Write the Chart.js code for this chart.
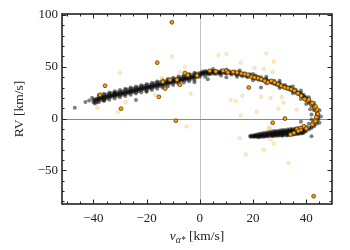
<!DOCTYPE html>
<html>
<head>
  <title>RV vs proper motion</title>
  <script src="https://cdn.jsdelivr.net/npm/chart.js"></script>
  <style>
    html, body { margin: 0; padding: 0; background: #fff; }
  </style>
</head>
<body>
  <canvas id="rvChart" width="350" height="250"></canvas>

  <script>
    // axis ranges and tick labels
    const xRange = [-51.8, 49.7];
    const yRange = [-82.5, 101];
    const xTicks = [-40, -20, 0, 20, 40];
    const yTicks = [-50, 0, 50, 100];

    // grey points: the dense stream (v_alpha*, RV)
    const greyPts = [
      [-47,10.5],[-43,16],[-41.6,17.5],[-40.5,20],[-24,18],[-20,26],[-2,35],[3,38],[10,40],[23,30],[32,0],[38,-3],[42,-17],
      [-40,16],[-40,18],[-39.5,14.5],[-39,17],[-39,19],[-39,15.5],[-38,19],[-38,17.5],[-38,20.5],[-37,20],[-37,18],[-37,21.5],
      [-36,20.5],[-36,19],[-36,22.5],[-36,17.8],[-35,21],[-35,23],[-35,19.5],[-34,22],[-34,20.5],[-34,24],
      [-33,22.5],[-33,21],[-33,24.5],[-32,23],[-32,21.5],[-32,25],[-32,24],[-31,23.5],[-31,25.5],[-31,22],
      [-30,24],[-30,26],[-30,22.5],[-29,24.5],[-29,26.5],[-29,23],[-28,25.5],[-28,27.5],[-28,23.5],
      [-27,26],[-27,24.5],[-27,28],[-26,26.5],[-26,28.5],[-26,25],[-25,27],[-25,29],[-25,25.5],
      [-24,27.5],[-24,29.5],[-24,26],[-23,28],[-23,30],[-23,26.5],[-22,29],[-22,31],[-22,27.5],
      [-21,29.5],[-21,31.5],[-21,28],[-20,30],[-20,32],[-20,28.5],[-19,30.5],[-19,32.5],[-19,29],
      [-18,31],[-18,33],[-18,29.5],[-17,32],[-17,34],[-17,30.5],[-16,32.5],[-16,34.5],[-16,31],
      [-15,33],[-15,35],[-15,31.5],[-14,33.5],[-14,35.5],[-14,32],[-13,34],[-13,36],[-13,32.5],
      [-12,35],[-12,37],[-12,33.5],[-11,35.5],[-11,37.5],[-11,34],[-10,36],[-10,38],[-10,34.5],
      [-9,36.5],[-9,38.5],[-9,35],[-8,37],[-8,39],[-8,35.5],[-7,38],[-7,40],[-7,36.5],
      [-6,38.5],[-6,40.5],[-6,37],[-5,39],[-5,41],[-5,37.5],[-4,39.5],[-4,41.5],[-4,38],
      [-3,40],[-3,42],[-3,38.5],[-2,41],[-2,43],[-2,39.5],[-1,41.5],[-1,43.5],[-1,40],[0,42],[0,44],[0,40.5],
      [-38,22.7],[-38,15.7],[-36,23.9],[-36,16.9],[-34,25.1],[-34,18.1],[-32,26.3],[-32,19.3],[-30,27.5],[-30,20.5],
      [-28,28.7],[-28,21.7],[-26,29.9],[-26,22.9],[-24,31.1],[-24,24.1],[-22,32.3],[-22,25.3],[-20,33.5],[-20,26.5],
      [-18,34.7],[-18,27.7],[-16,35.9],[-16,28.9],[-14,37.1],[-14,30.1],[-12,38.3],[-12,31.3],[-10,39.5],[-10,32.5],
      [-8,40.7],[-8,33.7],[-6,41.9],[-6,34.9],[-4,43.1],[-4,36.1],[-2,44.3],[-2,37.3],
      [-39.5,18.3],[-38.5,18.9],[-37.5,19.5],[-36.5,20.1],[-35.5,20.7],[-34.5,21.3],[-33.5,21.9],[-32.5,22.5],
      [-31.5,23.1],[-30.5,23.7],[-29.5,24.3],[-28.5,24.9],[-27.5,25.5],[-26.5,26.1],[-25.5,26.7],[-24.5,27.3],
      [-23.5,27.9],[-22.5,28.5],[-21.5,29.1],[-20.5,29.7],[-19.5,30.3],[-18.5,30.9],[-17.5,31.5],[-16.5,32.1],
      [-15.5,32.7],[-14.5,33.3],[-13.5,33.9],[-12.5,34.5],[-11.5,35.1],[-10.5,35.7],[-9.5,36.3],[-8.5,36.9],
      [-7.5,37.5],[-6.5,38.1],[-5.5,38.7],[-4.5,39.3],[-3.5,39.9],[-2.5,40.5],[-1.5,41.1],[-0.5,41.7],
      [1,44],[1,42.5],[1,45.5],[2,44.5],[2,43],[2,46],[3,44],[3,45.5],[3,42.5],[4,44.5],[4,46],[4,43],
      [5,45],[5,43.5],[5,46],[6,44.5],[6,46],[6,43],[7,45],[7,43.5],[8,45],[8,46.5],[8,43.5],
      [9,44.5],[9,46],[10,45],[10,43.5],[11,44.5],[11,46],[12,44],[12,42.5],[13,44],[13,45.5],
      [14,43.5],[14,42],[15,43],[15,44.5],[16,42.5],[16,41],[17,42],[17,43.5],[18,41.5],[18,40],
      [19,41],[19,42.5],[20,40.5],[20,39],[21,40],[21,38.5],[21,41.5],[22,39],[22,37.5],[22,40.5],
      [23,38.5],[23,37],[23,40],[24,38],[24,36.5],[25,37],[25,38.5],[25,35.5],[26,36.5],[26,35],
      [27,36],[27,34.5],[28,35],[28,36.5],[28,33.5],[29,34],[29,32.5],[30,33],[30,34.5],[30,31.5],
      [31,32],[31,30.5],[32,31],[32,32.5],[32,29.5],[33,30],[33,28.5],[34,29],[34,27.5],[34,30.5],
      [35,28],[35,26.5],[36,26.5],[36,25],[36,28],[37,25],[37,23.5],[38,23.5],[38,22],[38,25],
      [39,21.5],[39,20],[39,23],[40,19],[40,17.5],[40,20.5],[41,16.5],[41,15],[41,18],
      [42,14],[42,12.5],[42,15.5],[43,11],[43,9.5],[43,12.5],[43,8],[44,7],[44,5],[44,3],
      [44.5,1],[44.5,-1],[44.5,4],[44,-3],[44,-5],[43,-6],[43,-7.5],[42,-8],[42,-9],[41,-9],[41,-10.5],
      [0.5,43.5],[1.5,44],[2.5,45],[3.5,43.5],[4.5,45.5],[5.5,44],[6.5,45.5],[7.5,44],[8.5,45.5],[9.5,44],
      [10.5,45.5],[11.5,43.5],[12.5,45],[13.5,43],[14.5,44.5],[15.5,42],[16.5,43.5],[17.5,41],[18.5,42.5],
      [19.5,40],[20.5,41],[21.5,39],[22.5,38.5],[23.5,37.5],[24.5,37],[25.5,36],[26.5,35.5],[27.5,34.5],
      [28.5,34],[29.5,33],[30.5,32.5],[31.5,31.5],[32.5,30.5],[33.5,29.5],[34.5,28.5],[35.5,27],[36.5,26],
      [37.5,24],[38.5,22.5],[39.5,20.5],[40.5,18],[41.5,15.5],[42.5,13],[43.5,10],
      [5,48],[10,47.5],[15,46.5],[20,43],[25,40.5],[30,36.5],[35,31],[38,27],[41,20.5],[43,15],[45,8],[45.5,2],[45,-4],
      [2,40.5],[8,41.5],[14,40.5],[20,37],[25,34],[30,29.5],[35,24.5],[38,19],[40,14],[41.5,9],[42,4],[42,-1],[41,-5],
      [40,-8],[40,-10],[40,-12],[39,-8.5],[39,-10.5],[39,-12.5],[39,-14],[38,-9],[38,-11],[38,-13],[38,-14.5],
      [37,-9],[37,-11],[37,-13],[37,-15],[36,-9.5],[36,-11.5],[36,-13.5],[36,-15],
      [35,-10],[35,-12],[35,-14],[35,-15.5],[34,-10],[34,-12],[34,-14],[34,-15.5],
      [33,-10.5],[33,-12.5],[33,-14.5],[33,-16],[32,-11],[32,-13],[32,-15],
      [31,-11],[31,-13],[31,-15],[31,-16.5],[30,-11.5],[30,-13.5],[30,-15.5],
      [29,-12],[29,-14],[29,-16],[28,-12],[28,-14],[28,-16],[27,-12.5],[27,-14.5],[27,-16.5],
      [26,-13],[26,-15],[26,-17],[25,-13.5],[25,-15.5],[25,-17],[24,-14],[24,-16],[24,-17.5],
      [23,-14.5],[23,-16],[23,-17.5],[22,-15],[22,-16.5],[22,-18],[21,-15.5],[21,-17],
      [20,-16],[20,-17.5],[19,-16.5],[19,-17.5],
      [39.5,-10],[39.5,-12.5],[38.5,-10],[38.5,-12],[38.5,-14],[37.5,-10],[37.5,-12],[37.5,-14],
      [36.5,-10.5],[36.5,-12.5],[36.5,-14.5],[35.5,-11],[35.5,-13],[35.5,-15],[34.5,-11],[34.5,-13],[34.5,-15],
      [33.5,-11.5],[33.5,-13.5],[33.5,-15.5],[32.5,-12],[32.5,-14],[32.5,-16],[31.5,-12],[31.5,-14],[31.5,-16],
      [30.5,-12.5],[30.5,-14.5],[30.5,-16],[29.5,-13],[29.5,-15],[29.5,-16.5],[28.5,-13],[28.5,-15],[28.5,-16.5],
      [27.5,-13.5],[27.5,-15.5],[27.5,-17],[26.5,-14],[26.5,-16],[25.5,-14.5],[25.5,-16.5],[24.5,-15],[24.5,-17],
      [23.5,-15],[23.5,-17],[22.5,-15.5],[22.5,-17.5],[21.5,-16],[21.5,-17.5],[20.5,-16.5],[20.5,-17.5],[19.5,-17]
    ];

    // orange points (edged)
    const orangePts = [
      [-10.5,93],[-16,54],[-35.6,31.7],[-37.5,23],[-29.6,9.6],[-13.9,35.6],[-11.2,37.5],[-8.6,37.5],
      [-7.5,32.7],[-13,29],[-15.4,21],[-9,-2],[-4.5,42],[-5.6,44],[-1,41.5],[18.4,30],[27.4,-4],[32,0],[42.8,-75],
      [3.75,46.2],[8.75,46.2],[10,46.2],[10.6,44.6],[15.6,43.6],[16.9,43],[18.1,42.3],[19.4,40.4],
      [20.6,39.7],[21.9,39.1],[23.1,38.1],[24.4,36.5],[25.6,34.9],[26.9,36.5],[28.1,34.9],[29.4,33.3],
      [30.6,31.7],[31.9,30.1],[33.1,29.5],[34.4,28.5],[35.6,26.9],[36.9,24.4],[38.1,22.1],[39.4,18.9],
      [40.6,17.3],[41.9,14.1],[43.1,10.9],[43.8,7.7],[44.4,4.5],[43.8,1.3],[43.1,-1.9],[42.5,-4.5],
      [39.1,-7.4],[35.4,-13.8],[34.1,-15.4],[37.9,-9],[42.3,-5.8],[43.5,-2.6],[44.1,8.7],[43.5,11.8],
      [42.3,15.1],[41,18.3],[40,-9.6],[36.5,-10],[38,-11],[37,-12],[12.5,45],[6,45.5],[14,44.5]
    ];

    // faint orange points
    const faintPts = [
      [-30,44],[-10.5,60],[-38.6,10.6],[-27.8,16],[-30.7,6.7],[-16.9,23],[-14.3,39.4],[7,61.5],[10,62.5],
      [25,63],[27.8,55],[15.4,54],[20.6,49],[24,48],[27.4,45],[-5.6,50],[-7.5,45],[-3.4,24],[11.6,18],
      [13.5,17],[16,22],[23,21],[26.6,20],[30.8,21],[31.5,15.4],[29.6,9.6],[36.4,8.7],[21.4,6.7],[15.4,2.9],
      [26,-8.7],[26.6,-20],[-5,-7.7],[15,-19],[17.3,-34.6],[24,-30],[27.8,-24],[26.2,-9.6],[33.4,-43]
    ];

    const toXY = pts => pts.map(p => ({ x: p[0], y: p[1] }));
    const minus = v => (v < 0 ? '\u2212' + Math.abs(v) : '' + v);
    const serif = '"Liberation Serif", "DejaVu Serif", serif';

    // frame, inward ticks on all sides, zero lines and axis titles
    const framePlugin = {
      id: 'framePlugin',
      beforeDatasetsDraw(chart) {
        const { ctx, chartArea: a, scales: { x, y } } = chart;
        ctx.save();
        ctx.lineWidth = 1;
        ctx.strokeStyle = '#c4c4c4';
        const x0 = Math.round(x.getPixelForValue(0)) + 0.5;
        ctx.beginPath(); ctx.moveTo(x0, a.top); ctx.lineTo(x0, a.bottom); ctx.stroke();
        ctx.strokeStyle = '#8a8a8a';
        const y0 = Math.round(y.getPixelForValue(0)) + 0.5;
        ctx.beginPath(); ctx.moveTo(a.left, y0); ctx.lineTo(a.right, y0); ctx.stroke();
        ctx.restore();
      },
      afterDraw(chart) {
        const { ctx, chartArea: a, scales: { x, y } } = chart;
        ctx.save();
        ctx.strokeStyle = '#222';
        ctx.lineWidth = 1;
        for (let v = -50; v <= 45; v += 5) {
          const px = Math.round(x.getPixelForValue(v)) + 0.5;
          const len = v % 20 === 0 ? 4.5 : 2.5;
          ctx.beginPath();
          ctx.moveTo(px, a.bottom); ctx.lineTo(px, a.bottom - len);
          ctx.moveTo(px, a.top); ctx.lineTo(px, a.top + len);
          ctx.stroke();
        }
        for (let v = -80; v <= 100; v += 10) {
          const py = Math.round(y.getPixelForValue(v)) + 0.5;
          const len = v % 50 === 0 ? 4.5 : 2.5;
          ctx.beginPath();
          ctx.moveTo(a.left, py); ctx.lineTo(a.left + len, py);
          ctx.moveTo(a.right, py); ctx.lineTo(a.right - len, py);
          ctx.stroke();
        }
        ctx.lineWidth = 1.6;
        ctx.strokeRect(a.left, a.top, a.right - a.left, a.bottom - a.top);

        // y title
        ctx.fillStyle = '#222';
        ctx.font = '13.5px ' + serif;
        ctx.textAlign = 'center';
        ctx.textBaseline = 'middle';
        ctx.save();
        ctx.translate(19, (a.top + a.bottom) / 2);
        ctx.rotate(-Math.PI / 2);
        ctx.fillText('RV [km/s]', 0, 0);
        ctx.restore();

        // x title with subscript
        ctx.textAlign = 'left';
        ctx.textBaseline = 'alphabetic';
        const fMain = 'italic 13.5px ' + serif;
        const fSub = 'italic 9.5px ' + serif;
        const fRest = '13.5px ' + serif;
        ctx.font = fMain; const w1 = ctx.measureText('v').width;
        ctx.font = fSub; const w2 = ctx.measureText('\u03b1*').width;
        ctx.font = fRest; const w3 = ctx.measureText(' [km/s]').width;
        let tx = 197 - (w1 + w2 + w3) / 2;
        const ty = 240;
        ctx.font = fMain; ctx.fillText('v', tx, ty); tx += w1;
        ctx.font = fSub; ctx.fillText('\u03b1*', tx, ty + 2.5); tx += w2;
        ctx.font = fRest; ctx.fillText(' [km/s]', tx, ty);
        ctx.restore();
      }
    };

    const ctx = document.getElementById('rvChart').getContext('2d');
    new Chart(ctx, {
      type: 'scatter',
      data: {
        datasets: [
          { label: 'orange', data: toXY(orangePts), order: 1,
            backgroundColor: '#ffa200', borderColor: '#5c3800', borderWidth: 0.8, pointRadius: 1.9 },
          { label: 'faint', data: toXY(faintPts), order: 2,
            backgroundColor: 'rgba(255,215,140,0.35)', borderColor: 'rgba(245,180,70,0.55)', borderWidth: 0.8, pointRadius: 1.6 },
          { label: 'grey', data: toXY(greyPts), order: 3,
            backgroundColor: 'rgba(0,0,0,0.5)', borderWidth: 0, pointRadius: 2 }
        ]
      },
      options: {
        responsive: false,
        animation: false,
        devicePixelRatio: 1,
        layout: { padding: { left: 0, right: 18, top: 14, bottom: 0 } },
        plugins: { legend: { display: false }, tooltip: { enabled: false } },
        elements: { point: { hoverRadius: 0 } },
        scales: {
          x: {
            type: 'linear', min: xRange[0], max: xRange[1],
            grid: { display: false, drawTicks: false }, border: { display: false },
            afterFit: s => { s.height = 46; },
            afterBuildTicks: s => { s.ticks = xTicks.map(v => ({ value: v })); },
            ticks: { padding: 7, color: '#222', font: { family: serif, size: 13 }, callback: minus, maxRotation: 0 }
          },
          y: {
            type: 'linear', min: yRange[0], max: yRange[1],
            grid: { display: false, drawTicks: false }, border: { display: false },
            afterFit: s => { s.width = 62; },
            afterBuildTicks: s => { s.ticks = yTicks.map(v => ({ value: v })); },
            ticks: { padding: 4, color: '#222', font: { family: serif, size: 13 }, callback: minus }
          }
        }
      },
      plugins: [framePlugin]
    });
  </script>
</body>
</html>
